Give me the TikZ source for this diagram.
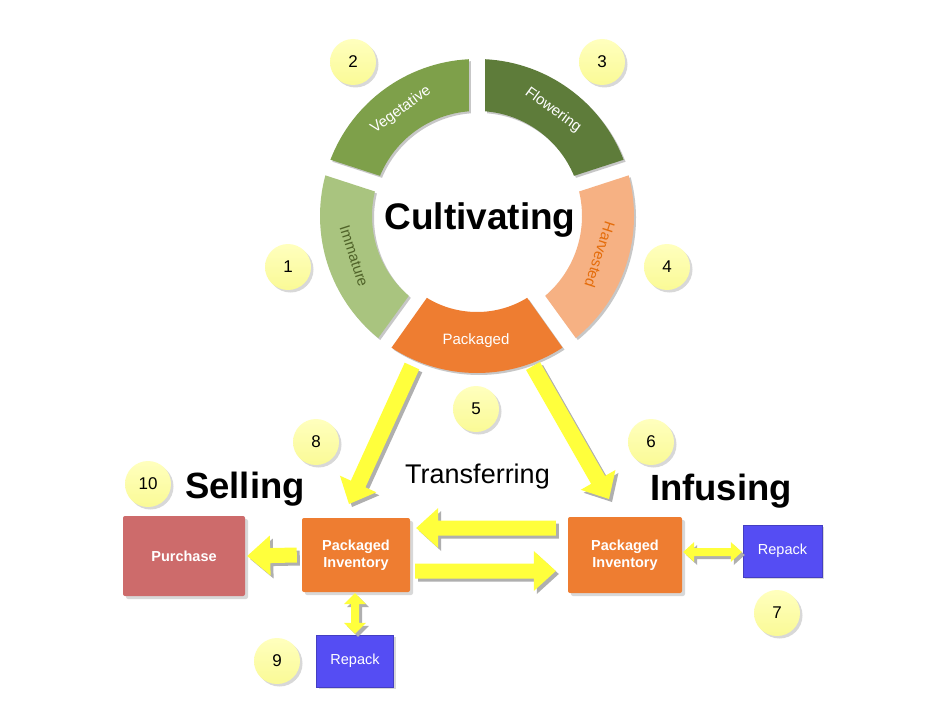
\documentclass[tikz,border=0pt]{standalone}
\usepackage{fontspec}
\setmainfont{Liberation Sans}
\usepackage{tikz}
\usetikzlibrary{calc, positioning, shadows}
\definecolor{cvImm}{RGB}{169,196,127}
\definecolor{cvImmTxt}{RGB}{79,98,40}
\definecolor{cvVeg}{RGB}{126,160,74}
\definecolor{cvFlw}{RGB}{94,124,58}
\definecolor{cvHrv}{RGB}{246,177,131}
\definecolor{cvHrvTxt}{RGB}{228,108,10}
\definecolor{cvPkg}{RGB}{238,125,49}
\definecolor{cvRed}{RGB}{205,107,107}
\definecolor{cvBlue}{RGB}{85,77,243}
\definecolor{cvBubbleHi}{RGB}{255,255,190}
\definecolor{cvBubble}{RGB}{250,250,150}
\definecolor{cvArrow}{RGB}{255,255,60}
\definecolor{cvShade}{RGB}{175,175,175}

% block arrow: tail, tip, shaft half, head half, head length
\newcommand{\blockarr}[5]{%
  \coordinate (hb) at ($(#2)!#5!(#1)$);
  \fill[arrbody] ($(#1)!#3!90:(#2)$) -- ($(hb)!#3!90:(#2)$) -- ($(hb)!#4!90:(#2)$)
    -- (#2) -- ($(hb)!#4!-90:(#2)$) -- ($(hb)!#3!-90:(#2)$) -- ($(#1)!#3!-90:(#2)$) -- cycle;
}
% block arrow with two heads
\newcommand{\dblarr}[5]{%
  \coordinate (ha) at ($(#1)!#5!(#2)$);
  \coordinate (hb) at ($(#2)!#5!(#1)$);
  \fill[arrbody] (#1) -- ($(ha)!#4!90:(#2)$) -- ($(ha)!#3!90:(#2)$) -- ($(hb)!#3!90:(#2)$)
    -- ($(hb)!#4!90:(#2)$) -- (#2) -- ($(hb)!#4!-90:(#2)$) -- ($(hb)!#3!-90:(#2)$)
    -- ($(ha)!#3!-90:(#2)$) -- ($(ha)!#4!-90:(#2)$) -- cycle;
}

\begin{document}
\begin{tikzpicture}[
    x=1pt, y=1pt,
    heading/.style={font=\bfseries\fontsize{36.5}{40}\selectfont, anchor=base, inner sep=0pt},
    seglabel/.style={font=\fontsize{15}{17}\selectfont, text=white, inner sep=0pt},
    bubble/.style={circle, top color=cvBubbleHi, bottom color=cvBubble, minimum size=46pt,
                   inner sep=0pt, font=\fontsize{17}{19}\selectfont,
                   drop shadow={shadow xshift=2.5pt, shadow yshift=-2.5pt, opacity=0.3}},
    stockbox/.style={rounded corners=2pt, align=center, text=white, inner sep=0pt,
                     font=\bfseries\fontsize{14.5}{17}\selectfont,
                     drop shadow={shadow xshift=3pt, shadow yshift=-3pt, opacity=0.3}},
    repbox/.style={fill=cvBlue, draw=cvBlue!80!black, text=white, inner sep=0pt,
                   font=\fontsize{14.5}{17}\selectfont,
                   drop shadow={shadow xshift=2pt, shadow yshift=-2pt, opacity=0.3}},
    arrbody/.style={fill=cvArrow, preaction={fill=cvShade, transform canvas={shift={(3pt,-3pt)}}}},
    segshade/.style={preaction={fill=cvShade!70, transform canvas={shift={(2pt,-2pt)}}}}
]
\useasboundingbox[fill=white] (0,0) rectangle (952,-706);

% cultivation ring
\coordinate (ring) at (477,-216);
\foreach \ga/\gb/\col/\rin in {162/90/cvVeg/105, 90/18/cvFlw/105, 18/-54/cvHrv/105,
                               -54/-126/cvPkg/96, 234/162/cvImm/105}
  \fill[\col, segshade] ([shift={({\ga-3}:157)}]ring) arc[start angle={\ga-3}, end angle={\gb+3}, radius=157]
    -- ([shift={({\gb+4.5}:\rin)}]ring) arc[start angle={\gb+4.5}, end angle={\ga-4.5}, radius=\rin] -- cycle;

\node[seglabel, rotate=36]  (vegLbl) at (401,-110) {Vegetative};
\node[seglabel, rotate=-36] (flwLbl) at (553,-110) {Flowering};
\node[seglabel, rotate=-72, text=cvImmTxt]  (immLbl) at (354,-256) {Immature};
\node[seglabel, rotate=-108, text=cvHrvTxt] (hrvLbl) at (600,-255) {Harvested};
\node[seglabel] (pkgLbl) at (476,-341) {Packaged};

\node[heading, font=\bfseries\fontsize{37}{40}\selectfont] (cult) at (480,-229) {Cultivating};
\node[heading] (sell) at (245,-498) {Selling};
\node[heading] (infu) at (721,-500) {Infusing};
\node[font=\fontsize{27}{30}\selectfont, anchor=base, inner sep=0pt] (trans) at (477.5,-483) {Transferring};

% boxes
\node[stockbox, fill=cvRed, minimum width=122pt, minimum height=80pt] (purch) at (184,-556) {Purchase};
\node[stockbox, fill=cvPkg, minimum width=108pt, minimum height=74pt] (invL) at (356,-555) {Packaged\\Inventory};
\node[stockbox, fill=cvPkg, minimum width=114pt, minimum height=76pt] (invR) at (625,-555) {Packaged\\Inventory};
\node[repbox, minimum width=77pt, minimum height=52pt] (repL) at (355,-661) {Repack};
\node[repbox, minimum width=79pt, minimum height=52pt] (repR) at (782.5,-551) {Repack};

% arrows
\coordinate (tailL) at (412,-366);
\coordinate (tipL) at (349,-504);
\coordinate (tailR) at (533,-366);
\coordinate (tipR) at (609,-499);
\coordinate (tlU) at ($(invR.west)+(-12,27)$);
\coordinate (hdU) at ($(invL.east)+(6,27)$);
\coordinate (tlD) at ($(invL.east)+(5,-16)$);
\coordinate (hdD) at ($(invR.west)+(-12,-16)$);
\coordinate (tlP) at ($(invL.west)+(-5,0)$);
\coordinate (hdP) at ($(purch.east)+(2,0)$);
\coordinate (rpA) at ($(invL.south)+(-1,-1)$);
\coordinate (rpB) at ($(repL.north)+(0,1)$);
\coordinate (rpC) at ($(invR.east |- repR.west)+(1,-1)$);
\coordinate (rpD) at ($(repR.west)+(-1,-1)$);

\blockarr{tailL}{tipL}{8pt}{20pt}{22pt}
\blockarr{tailR}{tipR}{8pt}{20pt}{22pt}
\blockarr{tlU}{hdU}{7.5pt}{20pt}{22pt}
\blockarr{tlD}{hdD}{7.5pt}{20pt}{22pt}
\blockarr{tlP}{hdP}{7.5pt}{20pt}{23pt}
\dblarr{rpA}{rpB}{4pt}{11pt}{11pt}
\dblarr{rpC}{rpD}{4pt}{10pt}{11pt}

% step numbers
\foreach \n/\x/\y in {1/288/267, 2/353/62, 3/602/62, 4/667/267, 5/476/409,
                      6/651/442, 7/777/613, 8/316/442, 9/277/661, 10/148/484}
  \node[bubble] (num\n) at (\x,-\y) {\n};
\end{tikzpicture}
\end{document}
